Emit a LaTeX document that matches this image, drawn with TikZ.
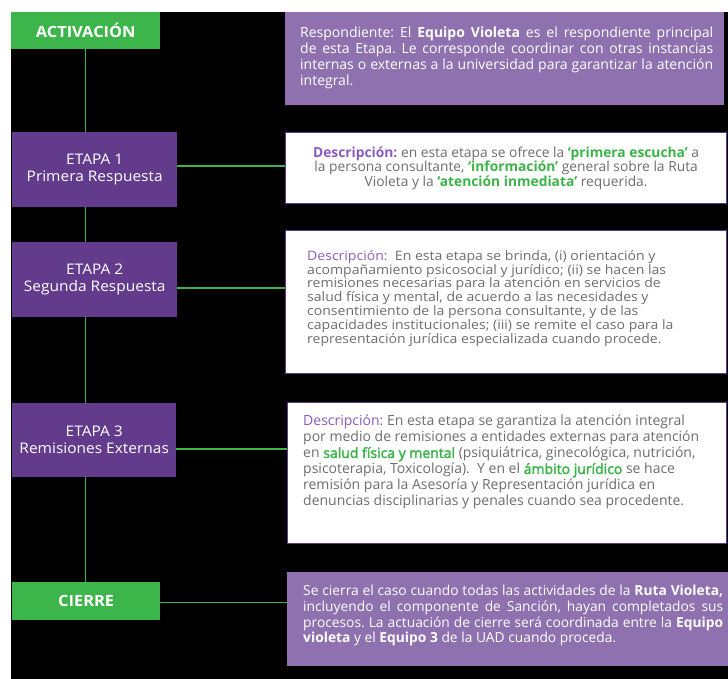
\documentclass[tikz,border=0pt]{standalone}
\usepackage{fontspec}
\setmainfont{Open Sans}
\newfontfamily\lblfont[FakeStretch=1.06]{Open Sans}
\newfontfamily\stretchB[FakeStretch=1.08]{Open Sans}
\newfontfamily\hlC[FakeBold=2.5]{Open Sans}
\usetikzlibrary{calc}
\definecolor{vgreen}{HTML}{3CB54A}
\definecolor{vpurple}{HTML}{623B8C}
\definecolor{lpurple}{HTML}{8F71AF}
\definecolor{dlabel}{HTML}{8A5CBF}
\definecolor{hgreen}{HTML}{3CB44A}
\definecolor{bodygray}{HTML}{6E6E6E}
\definecolor{bordpurple}{HTML}{5B3A87}
\frenchspacing
\begin{document}
\frenchspacing
\begin{tikzpicture}[x=1pt,y=-1pt,
  greenbox/.style={fill=vgreen, text=white, anchor=north west, inner sep=0pt,
    font=\lblfont\bfseries\fontsize{15.5}{17}\selectfont},
  stagebox/.style={fill=vpurple, text=white, anchor=north west, inner sep=0pt, align=center,
    minimum width=165pt, minimum height=75pt, font=\lblfont\fontsize{14.6}{17}\selectfont},
  infobox/.style={fill=lpurple, anchor=north west, inner sep=0pt},
  descbox/.style={fill=white, draw=bordpurple, line width=1.2pt, anchor=north west, inner sep=0pt},
  desctext/.style={anchor=north west, inner sep=0pt, align=left, text=bodygray},
  infotext/.style={anchor=north west, inner sep=0pt, align=justify, text=white},
  conn/.style={draw=vgreen, line width=1.3pt}]
\useasboundingbox (0,0) rectangle (728,679);
\fill[white] (0,0) rectangle (728,679);
\fill[black] (11,12) rectangle (728,679);

% left column box positions (filled after the connectors)
\path (11,12) node[greenbox, minimum width=149pt, minimum height=37pt, fill=none, text opacity=0] (act) {ACTIVACIÓN};
\path (12,582) node[greenbox, minimum width=148pt, minimum height=38pt, fill=none, text opacity=0] (cie) {CIERRE};
\path (12,132) node[stagebox, fill=none, text opacity=0] (e1) {ETAPA 1\\Primera Respuesta};
\path (12,242) node[stagebox, fill=none, text opacity=0] (e2) {ETAPA 2\\Segunda Respuesta};
\path (12,403) node[stagebox, minimum height=74pt, minimum width=164pt, fill=none, text opacity=0] (e3) {ETAPA 3\\Remisiones Externas};

% right column boxes
\node[infobox, minimum width=439pt, minimum height=93pt] (r0) at (285,12) {};
\node[descbox, minimum width=441pt, minimum height=71pt] (d1) at (285,132) {};
\node[descbox, minimum width=441pt, minimum height=143pt] (d2) at (285,230) {};
\node[descbox, minimum width=439pt, minimum height=141pt] (d3) at (287,402) {};
\node[infobox, minimum width=441pt, minimum height=94pt] (r4) at (287,572) {};

% connectors
\draw[conn] (act.south) -- (act.south |- cie.north);
\draw[conn] ($(e1.north east)!0.45!(e1.south east)$) coordinate (c1) -- (c1 -| d1.west);
\draw[conn] ($(e2.north east)!0.61!(e2.south east)$) coordinate (c2) -- (c2 -| d2.west);
\draw[conn] ($(e3.north east)!0.62!(e3.south east)$) coordinate (c3) -- (c3 -| d3.west);
\draw[conn] ($(cie.north east)!0.53!(cie.south east)$) coordinate (c4) -- (c4 -| r4.west);

% left boxes over the vertical line
\node[greenbox, minimum width=149pt, minimum height=37pt] at (act.north west) {ACTIVACIÓN};
\node[greenbox, minimum width=148pt, minimum height=38pt] at (cie.north west) {CIERRE};
\node[stagebox] at (e1.north west) {ETAPA 1\\Primera Respuesta};
\node[stagebox] at (e2.north west) {ETAPA 2\\Segunda Respuesta};
\node[stagebox, minimum height=74pt, minimum width=164pt] at (e3.north west) {ETAPA 3\\Remisiones Externas};

% texts
\node[infotext, text width=413pt, font=\fontsize{14}{16}\selectfont] (t0) at ($(r0.north west)+(15,15)$)
 {Respondiente: El \textbf{Equipo Violeta} es el respondiente principal\linebreak
  de esta Etapa. Le corresponde coordinar con otras instancias\linebreak
  internas o externas a la universidad para garantizar la atención\linebreak
  integral.};

\node[anchor=center, inner sep=0pt, align=center, text=bodygray, font=\fontsize{13.8}{14.5}\selectfont] (t1) at (d1.center)
 {{\color{dlabel}\bfseries Descripción:} en esta etapa se ofrece la {\color{hgreen}\bfseries ‘primera escucha’} a\\
  la persona consultante, {\color{hgreen}\bfseries ‘información’} general sobre la Ruta\\
  Violeta y la {\color{hgreen}\bfseries ‘atención inmediata’} requerida.};

\node[desctext, font=\stretchB\fontsize{13}{13.9}\selectfont] (t2) at ($(d2.north west)+(22,20)$)
 {{\color{dlabel}Descripción:}\ \ En esta etapa se brinda, (i) orientación y\\
  acompañamiento psicosocial y jurídico; (ii) se hacen las\\
  remisiones necesarias para la atención en servicios de\\
  salud física y mental, de acuerdo a las necesidades y\\
  consentimiento de la persona consultante, y de las\\
  capacidades institucionales; (iii) se remite el caso para la\\
  representación jurídica especializada cuando procede.};

\node[desctext, font=\fontsize{14}{16}\selectfont] (t3) at ($(d3.north west)+(16,13)$)
 {{\color{dlabel}Descripción:} En esta etapa se garantiza la atención integral\\
  por medio de remisiones a entidades externas para atención\\
  en {\color{hgreen}\hlC salud física y mental} (psiquiátrica, ginecológica, nutrición,\\
  psicoterapia, Toxicología).\ \ Y en el {\color{hgreen}\hlC ámbito jurídico} se hace\\
  remisión para la Asesoría y Representación jurídica en\\
  denuncias disciplinarias y penales cuando sea procedente.};

\node[infotext, text width=420pt, font=\fontsize{13.8}{15.7}\selectfont] (t4) at ($(r4.north west)+(16,13)$)
 {Se cierra el caso cuando todas las actividades de la \textbf{Ruta Violeta,}\linebreak
  incluyendo el componente de Sanción, hayan completados sus\linebreak
  procesos. La actuación de cierre será coordinada entre la \textbf{Equipo}\linebreak
  \textbf{violeta} y el \textbf{Equipo 3} de la UAD cuando proceda.};
\end{tikzpicture}
\end{document}
